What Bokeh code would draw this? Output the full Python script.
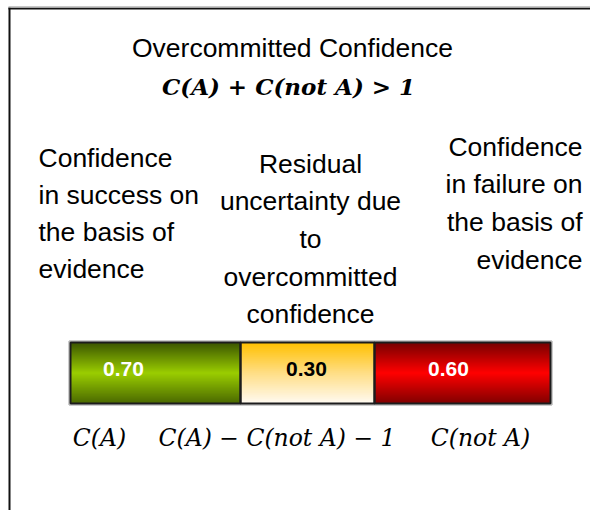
import numpy as np
from bokeh.plotting import figure
from bokeh.models import Range1d
from bokeh.core.properties import value
from bokeh.embed import file_html
from bokeh.resources import INLINE

# ---------------- data ----------------
title = "Overcommitted Confidence"
formula = "C(A) + C(not A) > 1"
segment_values = [0.70, 0.30, 0.60]
segment_labels = ["0.70", "0.30", "0.60"]
segment_label_colors = ["white", "black", "white"]
left_text = ["Confidence", "in success on", "the basis of", "evidence"]
mid_text = ["Residual", "uncertainty due", "to", "overcommitted", "confidence"]
right_text = ["Confidence", "in failure on", "the basis of", "evidence"]
bottom_labels = ["C(A)", "C(A) \u2212 C(not A) \u2212 1", "C(not A)"]

# ---------------- layout (pixel-like data units) ----------------
W, H = 590, 510
bar_left = 70
segment_widths = [170, 134, 176]
bar_top, bar_bottom = 342, 403
label_x = [123, 306, 448]
label_y = 368
bottom_x = [99, 276.5, 480]
bottom_y = 437

gradients = [
    [(0.0, "#3b5400"), (0.5, "#9acd00"), (1.0, "#4a6800")],
    [(0.0, "#ffc000"), (0.5, "#ffde85"), (1.0, "#fffaf2")],
    [(0.0, "#760000"), (0.5, "#ff0000"), (1.0, "#800000")],
]

def hex2rgb(h):
    h = h.lstrip("#")
    return np.array([int(h[i:i + 2], 16) for i in (0, 2, 4)], dtype=float)

def grad_color(stops, t):
    for (t0, c0), (t1, c1) in zip(stops[:-1], stops[1:]):
        if t0 <= t <= t1:
            f = (t - t0) / (t1 - t0)
            c = hex2rgb(c0) * (1 - f) + hex2rgb(c1) * f
            return "#%02x%02x%02x" % tuple(int(round(v)) for v in c)
    return stops[-1][1]

p = figure(width=W, height=H, x_range=Range1d(0, W), y_range=Range1d(H, 0),
           output_backend="svg", toolbar_location=None, min_border=0)
p.axis.visible = False
p.grid.visible = False
p.outline_line_color = None
p.background_fill_color = "white"
p.border_fill_color = "white"

# frame (left and top edges visible)
p.quad(left=[8, 8], right=[10, W], top=[7, 7], bottom=[H, 9],
       fill_color="#111111", line_color=None)
p.quad(left=[8], right=[W], top=[5.5], bottom=[7], fill_color="#c8c8c8", line_color=None)

# gradient bar segments
edges = np.concatenate([[bar_left], bar_left + np.cumsum(segment_widths)])
N = 61
strip_h = (bar_bottom - bar_top) / N
for i, val in enumerate(segment_values):
    l, r = edges[i], edges[i + 1]
    tops = bar_top + np.arange(N) * strip_h
    bottoms = np.minimum(tops + strip_h + 1.0, bar_bottom)
    cols = [grad_color(gradients[i], (k + 0.5) / N) for k in range(N)]
    p.quad(left=[l] * N, right=[r] * N, top=list(tops), bottom=list(bottoms),
           fill_color=cols, line_color=None)

# outer soft shadow + segment outlines
p.quad(left=[edges[0] - 1.5], right=[edges[-1] + 1.5], top=[bar_top - 1.5], bottom=[bar_bottom + 1.5],
       fill_color=None, line_color="#9a9a9a", line_width=1)
p.quad(left=list(edges[:-1]), right=list(edges[1:]), top=[bar_top] * 3, bottom=[bar_bottom] * 3,
       fill_color=None, line_color="#1c1c1c", line_width=2)

# value labels in the bar
p.text(x=label_x, y=[label_y] * 3, text=segment_labels, text_color=segment_label_colors,
       text_font=value("Liberation Sans"), text_font_size="21px", text_font_style="bold",
       text_align="center", text_baseline="middle")

# title + formula
p.text(x=[292], y=[47], text=[title], text_font=value("Liberation Sans"), text_font_size="26.5px",
       text_align="center", text_baseline="middle", text_color="black")
p.text(x=[288], y=[86], text=[formula], text_font=value("DejaVu Serif"), text_font_size="23px",
       text_font_style="bold italic", text_align="center", text_baseline="middle", text_color="black")

# descriptive blocks
sans = dict(text_font=value("Liberation Sans"), text_font_size="26.5px", text_baseline="middle",
            text_color="black")
p.text(x=[38] * 4, y=[157 + 37 * k for k in range(4)], text=left_text, text_align="left", **sans)
p.text(x=[310] * 5, y=[163 + 37.7 * k for k in range(5)], text=mid_text, text_align="center", **sans)
p.text(x=[582] * 4, y=[146 + 37.7 * k for k in range(4)], text=right_text, text_align="right", **sans)

# bottom formula labels
p.text(x=bottom_x, y=[bottom_y] * 3, text=bottom_labels, text_font=value("DejaVu Serif"),
       text_font_size="23.5px", text_font_style="italic", text_align="center",
       text_baseline="middle", text_color="black")

open("out.html", "w").write(file_html(p, INLINE))
